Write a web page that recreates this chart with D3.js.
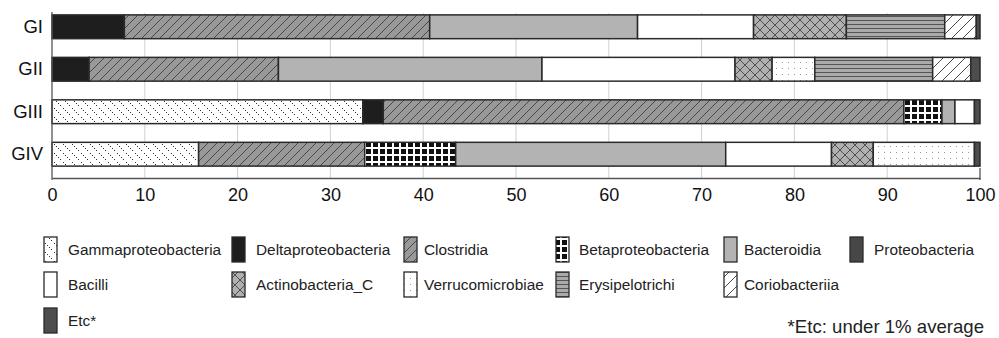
<!DOCTYPE html>
<html>
<head>
<meta charset="utf-8">
<script src="https://cdn.jsdelivr.net/npm/d3@7"></script>
<style>
  body { margin: 0; background: #fff; }
  svg { font-family: "Liberation Sans", Arial, sans-serif; }
</style>
</head>
<body>
<div id="chart"></div>
<script>
// groups and taxa
var groups = ["GI", "GII", "GIII", "GIV"];
var taxa = ["Gammaproteobacteria", "Deltaproteobacteria", "Clostridia", "Betaproteobacteria",
            "Bacteroidia", "Proteobacteria", "Bacilli", "Actinobacteria_C", "Verrucomicrobiae",
            "Erysipelotrichi", "Coriobacteriia", "Etc*"];

// percent per taxon, same order as taxa
var valuesGI   = [0,    7.8, 32.9, 0,   22.4, 0, 12.5, 10.0, 0,   10.6, 3.4, 0.4];
var valuesGII  = [0,    4.0, 20.4, 0,   28.4, 0, 20.8, 4.0,  4.6, 12.7, 4.1, 1.0];
var valuesGIII = [33.5, 2.2, 56.1, 4.1, 1.4,  0, 2.1,  0,    0,   0,    0,   0.6];
var valuesGIV  = [15.8, 0,   17.9, 9.8, 29.1, 0, 11.4, 4.5,  10.9,0,    0,   0.6];
var xTicks = [0, 10, 20, 30, 40, 50, 60, 70, 80, 90, 100];

var rows = [valuesGI, valuesGII, valuesGIII, valuesGIV];

var width = 999, height = 338;
var svg = d3.select("#chart").append("svg")
    .attr("width", width)
    .attr("height", height);

// patterns
var defs = svg.append("defs");
function pat(id, w, h, bg) {
  var p = defs.append("pattern").attr("id", id)
      .attr("patternUnits", "userSpaceOnUse")
      .attr("width", w).attr("height", h);
  p.append("rect").attr("width", w).attr("height", h).attr("fill", bg);
  return p;
}
// gamma: dotted back-diagonals
var pg = pat("gamma", 9, 9, "#fff");
[0, 2, 4, 6].forEach(function(d) {
  pg.append("rect").attr("x", d).attr("y", d).attr("width", 1).attr("height", 1).attr("fill", "#333");
});
// clostridia: forward hatch on gray
var pc = pat("clos", 9, 9, "#999");
pc.append("path").attr("d", "M0,9 L9,0 M-2,2 L2,-2 M7,11 L11,7").attr("stroke", "#333").attr("stroke-width", 0.8);
// beta: black squares with white grid
var pb = pat("beta", 7, 7, "#fff");
pb.append("rect").attr("x", 2).attr("y", 2).attr("width", 5).attr("height", 5).attr("fill", "#111");
// actino: crosshatch
var pa = pat("actino", 10, 10, "#b0b0b0");
pa.append("path").attr("d", "M0,0 L10,10 M0,10 L10,0").attr("stroke", "#444").attr("stroke-width", 0.9);
// verruco: sparse dots
var pv = pat("verru", 6, 6, "#fff");
pv.append("rect").attr("x", 2).attr("y", 2).attr("width", 1).attr("height", 1).attr("fill", "#999");
// erysipelotrichi: horizontal lines
var pe = pat("erysi", 4, 4, "#aaa");
pe.append("rect").attr("x", 0).attr("y", 0).attr("width", 4).attr("height", 1).attr("fill", "#555");
// corio: forward hatch on white
var pr = pat("corio", 11, 11, "#fff");
pr.append("path").attr("d", "M0,11 L11,0 M-2,2 L2,-2 M9,13 L13,9").attr("stroke", "#333").attr("stroke-width", 0.9);

var fills = ["url(#gamma)", "#1e1e1e", "url(#clos)", "url(#beta)", "#b3b3b3", "#474747",
             "#fff", "url(#actino)", "url(#verru)", "url(#erysi)", "url(#corio)", "#4d4d4d"];

var x = d3.scaleLinear().domain([0, 100]).range([52, 980]);
var y = d3.scaleBand().domain(groups).range([3, 178]).paddingInner(0.44).paddingOuter(0.28);

// grid
svg.append("g").selectAll("line").data(xTicks.slice(1, -1)).join("line")
    .attr("x1", function(d) { return x(d); }).attr("x2", function(d) { return x(d); })
    .attr("y1", 13).attr("y2", 178)
    .attr("stroke", "#d0d0d0").attr("stroke-width", 1);

// stacked bars
var stackData = groups.map(function(g, i) {
  var o = { group: g };
  taxa.forEach(function(t, j) { o[t] = rows[i][j]; });
  return o;
});
var series = d3.stack().keys(taxa)(stackData);

svg.append("g").selectAll("g").data(series).join("g")
    .attr("fill", function(d, i) { return fills[i]; })
  .selectAll("rect").data(function(d) { return d.filter(function(e) { return e[1] - e[0] > 0; }); }).join("rect")
    .attr("x", function(d) { return x(d[0]); })
    .attr("width", function(d) { return x(d[1]) - x(d[0]); })
    .attr("y", function(d) { return y(d.data.group); })
    .attr("height", y.bandwidth())
    .attr("stroke", "#2a2a2a")
    .attr("stroke-width", 1.5);

// axes
var xAxis = svg.append("g")
    .attr("transform", "translate(0,178)")
    .call(d3.axisBottom(x).tickValues(xTicks).tickSize(0).tickPadding(10));
xAxis.select(".domain").attr("stroke", "#555").attr("stroke-width", 1.3);
xAxis.selectAll("text").style("font-size", "18px").style("fill", "#111");
svg.append("g").selectAll("line").data([0, 100]).join("line")
    .attr("x1", function(d) { return x(d); }).attr("x2", function(d) { return x(d); })
    .attr("y1", function(d) { return d === 0 ? 12 : 168; }).attr("y2", 180)
    .attr("stroke", "#555").attr("stroke-width", 1.3);

var yAxis = svg.append("g")
    .attr("transform", "translate(52,0)")
    .call(d3.axisLeft(y).tickSize(0).tickPadding(9));
yAxis.select(".domain").remove();
yAxis.selectAll("text").style("font-size", "18.5px").style("fill", "#111");

// legend: row/column slot for each taxon
var legRow = [0, 0, 0, 0, 0, 0, 1, 1, 1, 1, 1, 2];
var legCol = [0, 1, 2, 3, 4, 5, 0, 1, 2, 3, 4, 0];
var swX = [44, 232, 404, 556, 724, 850];
var txX = [68, 256, 424, 579, 744, 874];
var legY = [237, 272, 308];
var leg = svg.append("g").selectAll("g").data(taxa).join("g");
leg.append("rect")
    .attr("x", function(d, i) { return swX[legCol[i]]; })
    .attr("y", function(d, i) { return legY[legRow[i]]; })
    .attr("width", 13).attr("height", 25)
    .attr("fill", function(d, i) { return fills[i]; })
    .attr("stroke", "#2a2a2a").attr("stroke-width", 1.3);
leg.append("text")
    .attr("x", function(d, i) { return txX[legCol[i]]; })
    .attr("y", function(d, i) { return legY[legRow[i]] + 18; })
    .style("font-size", "15.4px").style("fill", "#222")
    .text(function(d) { return d; });

svg.append("text")
    .attr("x", 984).attr("y", 333)
    .attr("text-anchor", "end")
    .style("font-size", "18.6px").style("fill", "#222")
    .text("*Etc: under 1% average");
</script>
</body>
</html>
